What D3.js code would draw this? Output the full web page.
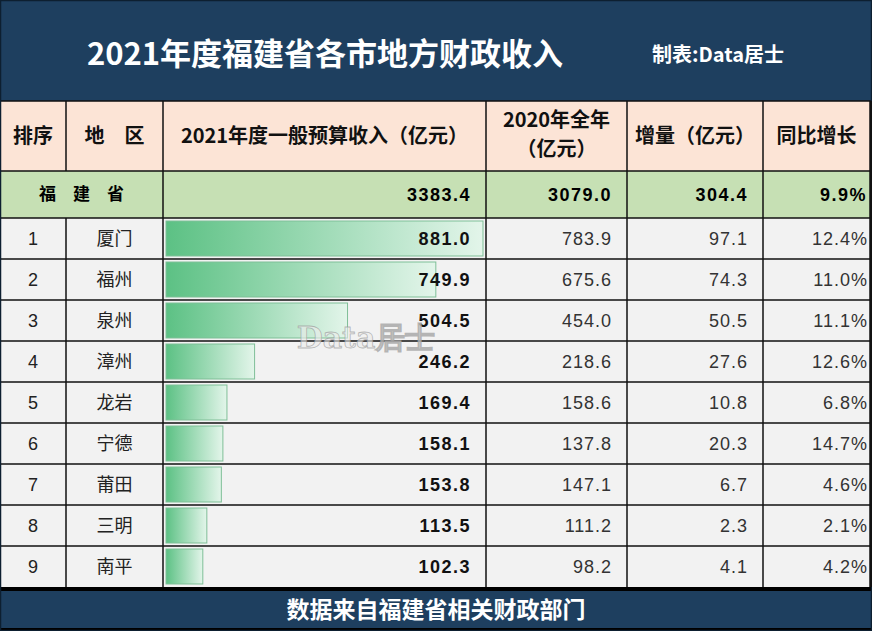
<!DOCTYPE html>
<html>
<head>
<meta charset="utf-8">
<script src="https://cdn.jsdelivr.net/npm/d3@7"></script>
<style>
body { margin: 0; background: #fff; }
svg { display: block; }
</style>
</head>
<body>
<svg id="chart" width="872" height="631"></svg>
<script>
// data
var regions = ['厦门', '福州', '泉州', '漳州', '龙岩', '宁德', '莆田', '三明', '南平'];
var income2021 = [881.0, 749.9, 504.5, 246.2, 169.4, 158.1, 153.8, 113.5, 102.3];
var income2020 = [783.9, 675.6, 454.0, 218.6, 158.6, 137.8, 147.1, 111.2, 98.2];
var increase = [97.1, 74.3, 50.5, 27.6, 10.8, 20.3, 6.7, 2.3, 4.1];
var growth = [12.4, 11.0, 11.1, 12.6, 6.8, 14.7, 4.6, 2.1, 4.2];
var province = { name: '福　建　省', v2021: 3383.4, v2020: 3079.0, inc: 304.4, g: 9.9 };
var headers = ['排序', '地　区', '2021年度一般预算收入（亿元）', '2020年全年|（亿元）', '增量（亿元）', '同比增长'];

var NAVY = '#1e3f5f';
var CJK = '"Noto Sans CJK SC", "Noto Sans", sans-serif';
var NUM = '"Liberation Sans Narrow", "Liberation Sans", Arial, sans-serif';

var svg = d3.select('#chart');
var colX = [0, 66, 163, 486, 627, 763, 870];
var headTop = 101, headH = 70, provH = 47, rowH = 41;
var rowsTop = headTop + headH + provH;

var y = d3.scaleBand()
	.domain(d3.range(regions.length))
	.range([rowsTop, rowsTop + rowH * regions.length]);

var x = d3.scaleLinear()
	.domain([0, d3.max(income2021)])
	.range([colX[2] + 3, colX[3] - 3]);

var fmt = d3.format('.1f');

// gradient for bars
var grad = svg.append('defs').append('linearGradient')
	.attr('id', 'barGrad');
grad.append('stop').attr('offset', '0%').attr('stop-color', '#5cc184');
grad.append('stop').attr('offset', '100%').attr('stop-color', '#e3f5ea');

// title banner
svg.append('rect').attr('x', 0).attr('y', 0).attr('width', 872).attr('height', 101).attr('fill', NAVY);
svg.append('text')
	.attr('x', 325).attr('y', 51)
	.attr('text-anchor', 'middle').attr('dominant-baseline', 'central')
	.attr('fill', '#fff').attr('font-family', CJK).attr('font-size', 31).attr('font-weight', 'bold')
	.text('2021年度福建省各市地方财政收入');
svg.append('text')
	.attr('x', 718).attr('y', 53)
	.attr('text-anchor', 'middle').attr('dominant-baseline', 'central')
	.attr('fill', '#fff').attr('font-family', CJK).attr('font-size', 20).attr('font-weight', 'bold')
	.text('制表:Data居士');

// header row
svg.append('rect').attr('x', 0).attr('y', headTop).attr('width', 872).attr('height', headH).attr('fill', '#fce4d6');
svg.selectAll('.head')
	.data(headers)
	.enter()
	.append('text')
	.attr('class', 'head')
	.attr('x', function(d, i) { return (colX[i] + colX[i + 1]) / 2 })
	.attr('y', headTop + headH / 2)
	.attr('text-anchor', 'middle')
	.attr('font-family', CJK).attr('font-size', 20).attr('font-weight', 'bold').attr('fill', '#111')
	.each(function(d) {
		var lines = d.split('|');
		var t = d3.select(this);
		lines.forEach(function(l, k) {
			t.append('tspan')
				.attr('x', t.attr('x'))
				.attr('dy', k == 0 ? (lines.length == 1 ? '0.35em' : '-0.45em') : '1.45em')
				.text(l);
		});
	});

// province row
svg.append('rect').attr('x', 0).attr('y', headTop + headH).attr('width', 872).attr('height', provH).attr('fill', '#c6e0b4');
var provY = headTop + headH + provH / 2;
svg.append('text')
	.attr('x', (colX[0] + colX[2]) / 2).attr('y', provY).attr('dy', '0.35em')
	.attr('text-anchor', 'middle').attr('font-family', CJK).attr('font-size', 17).attr('font-weight', 'bold')
	.text(province.name);
var provVals = [fmt(province.v2021), fmt(province.v2020), fmt(province.inc), fmt(province.g) + '%'];
svg.selectAll('.provval')
	.data(provVals)
	.enter()
	.append('text')
	.attr('x', function(d, i) { return colX[i + 3] - (i == 3 ? 3 : 15) })
	.attr('y', provY).attr('dy', '0.35em')
	.attr('text-anchor', 'end').attr('font-family', NUM).attr('font-size', 18).attr('font-weight', 'bold')
	.attr('letter-spacing', 1.5)
	.text(function(d) { return d });

// data rows
svg.append('rect').attr('x', 0).attr('y', rowsTop).attr('width', 872).attr('height', rowH * regions.length).attr('fill', '#f2f2f2');

svg.selectAll('.bar')
	.data(income2021)
	.enter()
	.append('rect')
	.attr('class', 'bar')
	.attr('x', x(0))
	.attr('y', function(d, i) { return y(i) + 3 })
	.attr('width', function(d) { return x(d) - x(0) })
	.attr('height', rowH - 6)
	.attr('fill', 'url(#barGrad)')
	.attr('stroke', '#7fbf97').attr('stroke-width', 1);

var rows = svg.selectAll('.row')
	.data(regions)
	.enter()
	.append('g')
	.attr('class', 'row')
	.attr('transform', function(d, i) { return 'translate(0,' + (y(i) + rowH / 2) + ')' });

rows.append('text')
	.attr('x', (colX[0] + colX[1]) / 2).attr('dy', '0.35em')
	.attr('text-anchor', 'middle').attr('font-family', NUM).attr('font-size', 18).attr('fill', '#222')
	.text(function(d, i) { return i + 1 });
rows.append('text')
	.attr('x', (colX[1] + colX[2]) / 2).attr('dy', '0.35em')
	.attr('text-anchor', 'middle').attr('font-family', CJK).attr('font-size', 18).attr('fill', '#222')
	.text(function(d) { return d });
rows.append('text')
	.attr('x', colX[3] - 15).attr('dy', '0.35em')
	.attr('text-anchor', 'end').attr('font-family', NUM).attr('font-size', 18).attr('font-weight', 'bold')
	.attr('letter-spacing', 1.5).attr('fill', '#111')
	.text(function(d, i) { return fmt(income2021[i]) });
rows.append('text')
	.attr('x', colX[4] - 15).attr('dy', '0.35em')
	.attr('text-anchor', 'end').attr('font-family', NUM).attr('font-size', 18)
	.attr('letter-spacing', 1).attr('fill', '#333')
	.text(function(d, i) { return fmt(income2020[i]) });
rows.append('text')
	.attr('x', colX[5] - 15).attr('dy', '0.35em')
	.attr('text-anchor', 'end').attr('font-family', NUM).attr('font-size', 18)
	.attr('letter-spacing', 1).attr('fill', '#333')
	.text(function(d, i) { return fmt(increase[i]) });
rows.append('text')
	.attr('x', colX[6] - 2).attr('dy', '0.35em')
	.attr('text-anchor', 'end').attr('font-family', NUM).attr('font-size', 18)
	.attr('letter-spacing', 1).attr('fill', '#333')
	.text(function(d, i) { return fmt(growth[i]) + '%' });

// grid lines
var tableBottom = rowsTop + rowH * regions.length;
var hLines = [headTop, headTop + headH, rowsTop].concat(d3.range(1, regions.length).map(function(i) { return y(i) }));
svg.selectAll('.hline')
	.data(hLines)
	.enter()
	.append('line')
	.attr('x1', 0).attr('x2', 872)
	.attr('y1', function(d) { return d }).attr('y2', function(d) { return d })
	.attr('stroke', '#111').attr('stroke-width', 1.5);
// vertical lines; the 排序/地区 divider skips the province row
svg.selectAll('.vline')
	.data(colX.slice(2))
	.enter()
	.append('line')
	.attr('x1', function(d) { return d }).attr('x2', function(d) { return d })
	.attr('y1', headTop)
	.attr('y2', tableBottom)
	.attr('stroke', '#111').attr('stroke-width', 1.5);
svg.append('line').attr('x1', colX[1]).attr('x2', colX[1]).attr('y1', headTop).attr('y2', headTop + headH).attr('stroke', '#111').attr('stroke-width', 1.5);
svg.append('line').attr('x1', colX[1]).attr('x2', colX[1]).attr('y1', rowsTop).attr('y2', tableBottom).attr('stroke', '#111').attr('stroke-width', 1.5);

// watermark
svg.append('text')
	.attr('x', 366).attr('y', 337).attr('dy', '0.35em')
	.attr('text-anchor', 'middle').attr('font-family', '"DejaVu Serif", serif').attr('font-size', 30).attr('font-weight', 'bold')
	.attr('fill', '#ececec').attr('fill-opacity', 0.6).attr('stroke', '#9a9a9a').attr('stroke-width', 0.8).attr('stroke-opacity', 0.7)
	.text('Data居士');

// footer
svg.append('rect').attr('x', 0).attr('y', tableBottom).attr('width', 872).attr('height', 4).attr('fill', '#000');
svg.append('rect').attr('x', 0).attr('y', tableBottom + 4).attr('width', 872).attr('height', 631 - tableBottom - 4).attr('fill', NAVY);
svg.append('rect').attr('x', 0).attr('y', 628).attr('width', 872).attr('height', 3).attr('fill', '#000');
svg.append('text')
	.attr('x', 436).attr('y', (tableBottom + 4 + 628) / 2).attr('dy', '0.35em')
	.attr('text-anchor', 'middle').attr('fill', '#fff').attr('font-family', CJK).attr('font-size', 23).attr('font-weight', 'bold')
	.text('数据来自福建省相关财政部门');

// outer frame
svg.append('rect').attr('x', 0.5).attr('y', 0.5).attr('width', 871).attr('height', 630)
	.attr('fill', 'none').attr('stroke', '#0d1f30').attr('stroke-width', 1.5);
svg.append('line').attr('x1', 871).attr('x2', 871).attr('y1', headTop).attr('y2', tableBottom).attr('stroke', '#111').attr('stroke-width', 2);
</script>
</body>
</html>
